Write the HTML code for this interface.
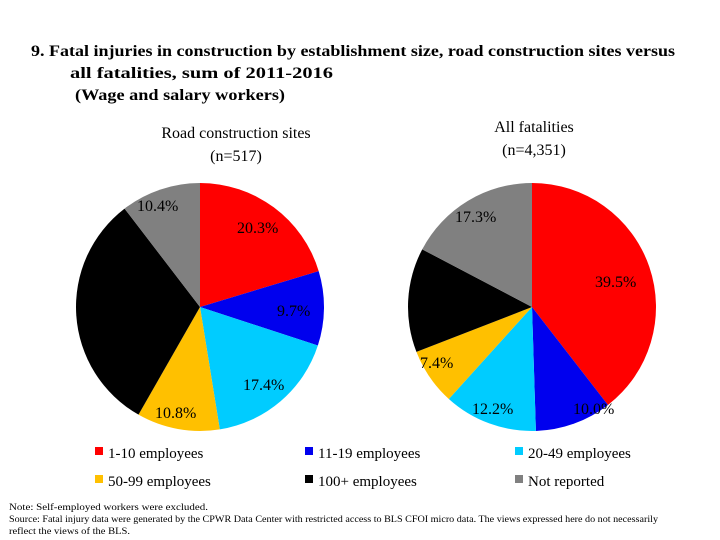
<!DOCTYPE html>
<html><head><meta charset="utf-8"><style>
body{margin:0;background:#fff;width:720px;height:540px;overflow:hidden;font-family:"Liberation Serif",serif;}
svg{display:block}
</style></head><body>
<svg id="chart" width="720" height="540" xmlns="http://www.w3.org/2000/svg" font-family="Liberation Serif, serif">
<g font-weight="bold" font-size="16" fill="#000">
<text x="31" y="56" textLength="644" lengthAdjust="spacingAndGlyphs">9. Fatal injuries in construction by establishment size, road construction sites versus</text>
<text x="70" y="78" textLength="263" lengthAdjust="spacingAndGlyphs">all fatalities, sum of 2011-2016</text>
<text x="75" y="100" textLength="210" lengthAdjust="spacingAndGlyphs">(Wage and salary workers)</text>
</g>
<g font-size="16" text-anchor="middle">
<text x="236" y="138">Road construction sites</text>
<text x="236" y="161">(n=517)</text>
</g>
<g font-size="16" text-anchor="middle">
<text x="534" y="132">All fatalities</text>
<text x="534" y="155">(n=4,351)</text>
</g>
<g id="pies"></g>
<g id="legend" font-size="15"></g>
<g font-size="9.5">
<text x="9" y="510" textLength="199" lengthAdjust="spacingAndGlyphs">Note: Self-employed workers were excluded.</text>
<text x="9" y="522" textLength="649" lengthAdjust="spacingAndGlyphs">Source: Fatal injury data were generated by the CPWR Data Center with restricted access to BLS CFOI micro data.  The views expressed here do not necessarily</text>
<text x="9" y="534" textLength="121" lengthAdjust="spacingAndGlyphs">reflect the views of the BLS.</text>
</g>
</svg>
<script>
const categories = ["1-10 employees","11-19 employees","20-49 employees","50-99 employees","100+ employees","Not reported"];
const roadValues = [20.3, 9.7, 17.4, 10.8, 31.3, 10.4];
const allValues = [39.5, 10.0, 12.2, 7.4, 13.6, 17.3];
const colors = ["#ff0000","#0000ee","#00ccff","#ffc000","#000000","#808080"];
const NS="http://www.w3.org/2000/svg";
const pies=document.getElementById('pies');
function drawPie(vals,cx,cy,r,name,labelPos){
  const tot=vals.reduce((a,b)=>a+b,0);
  let a0=0;
  const g=document.createElementNS(NS,'g');
  
  
  pies.appendChild(g);
  vals.forEach((v,i)=>{
    const a1=a0+v/tot*2*Math.PI;
    const x0=cx+r*Math.sin(a0),y0=cy-r*Math.cos(a0);
    const x1=cx+r*Math.sin(a1),y1=cy-r*Math.cos(a1);
    const p=document.createElementNS(NS,'path');
    p.setAttribute('d',`M${cx},${cy}L${x0},${y0}A${r},${r} 0 ${(a1-a0)>Math.PI?1:0} 1 ${x1},${y1}Z`);
    p.setAttribute('fill',colors[i]);
    
    
    g.appendChild(p);
    const t=document.createElementNS(NS,'text');
    t.setAttribute('x',labelPos[i][0]);t.setAttribute('y',labelPos[i][1]);
    t.setAttribute('font-size','16');
    t.textContent=v.toFixed(1)+'%';
    
    
    pies.appendChild(t);
    a0=a1;
  });
}
drawPie(roadValues,200,307,124,'road-pie',[[237,233],[277,316],[243,390],[155,418],[78,321],[137,211]]);
drawPie(allValues,532,307,124,'all-pie',[[595,287],[573,414],[472,414],[420,368],[413,306],[455,222]]);
const leg=document.getElementById('legend');
const lp=[[95,458],[305,458],[515,458],[95,486],[305,486],[515,486]];
categories.forEach((c,i)=>{
  const r=document.createElementNS(NS,'rect');
  r.setAttribute('x',lp[i][0]);r.setAttribute('y',lp[i][1]-11);r.setAttribute('width',8);r.setAttribute('height',8);
  r.setAttribute('fill',colors[i]);
  
  
  leg.appendChild(r);
  const t=document.createElementNS(NS,'text');
  t.setAttribute('x',lp[i][0]+13);t.setAttribute('y',lp[i][1]);
  t.textContent=c;
  
  
  leg.appendChild(t);
});
</script>
</body></html>
